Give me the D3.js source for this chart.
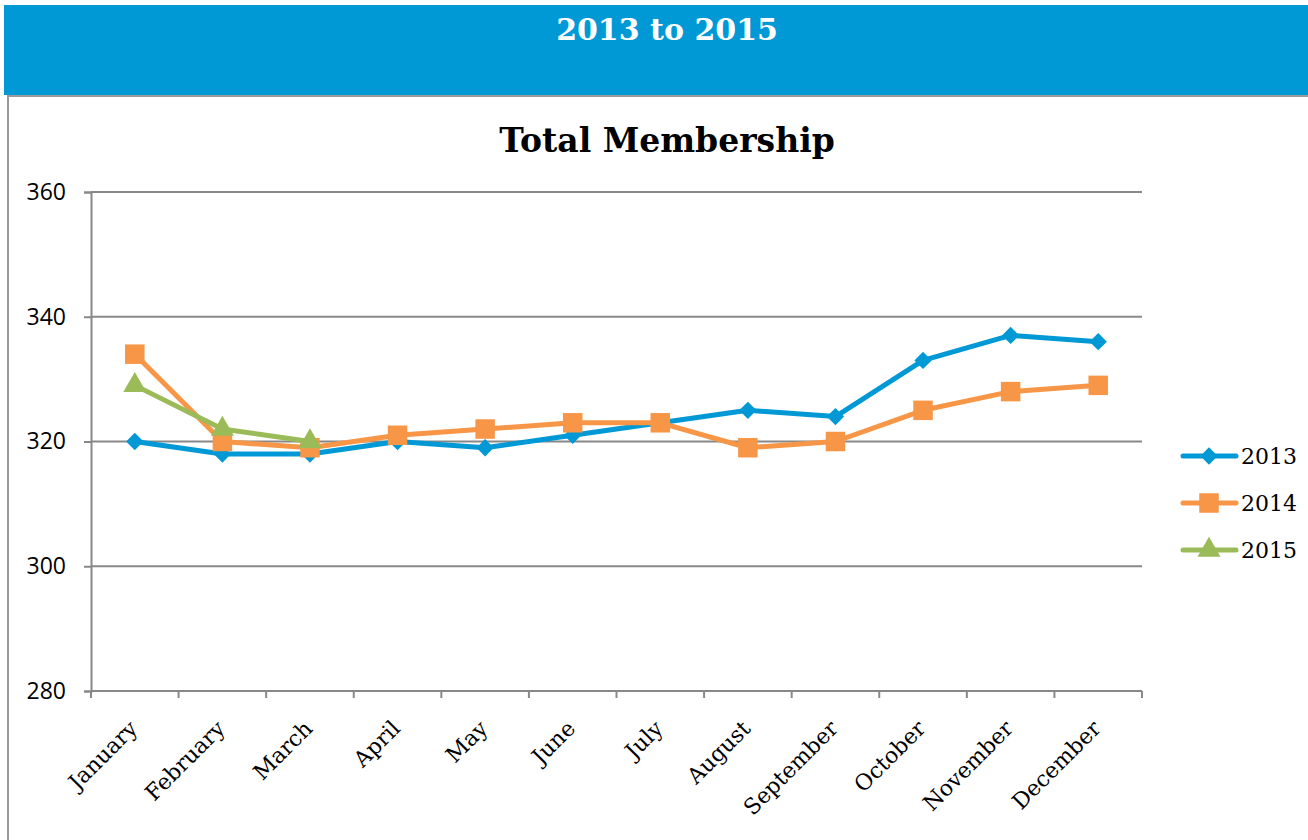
<!DOCTYPE html>
<html>
<head>
<meta charset="utf-8">
<script src="https://cdn.jsdelivr.net/npm/d3@7/dist/d3.min.js"></script>
<style>
    body { margin: 0; background: #fff; }
    svg { display: block; }
</style>
</head>
<body>
<div id="chart"></div>
<script>
"use strict";

const months = ["January", "February", "March", "April", "May", "June", "July",
    "August", "September", "October", "November", "December"];
const years = ["2013", "2014", "2015"];
const values2013 = [320, 318, 318, 320, 319, 321, 323, 325, 324, 333, 337, 336];
const values2014 = [334, 320, 319, 321, 322, 323, 323, 319, 320, 325, 328, 329];
const values2015 = [329, 322, 320];
const yTicks = [280, 300, 320, 340, 360];

const BLUE = "#0099D6";
const ORANGE = "#F79646";
const GREEN = "#9BBB59";
const SERIF = "'DejaVu Serif', serif";
const SANS = "'Open Sans', sans-serif";

function buildChart() {
    const width = 1308, height = 840;
    const svg = d3.select("#chart").append("svg")
        .attr("width", width).attr("height", height);

    // header band
    svg.append("rect").attr("x", 4).attr("y", 5).attr("width", width - 4).attr("height", 90)
        .attr("fill", "#0099D6");
    svg.append("text").attr("x", 667).attr("y", 40)
        .attr("text-anchor", "middle")
        .style("font-family", SERIF).style("font-weight", "bold").style("font-size", "30px")
        .attr("fill", "#fff")
        .text("2013 to 2015");

    // frame of the chart box
    svg.append("path").attr("d", "M8,840 V96 H1308")
        .attr("fill", "none").attr("stroke", "#999").attr("stroke-width", 2);

    svg.append("text").attr("x", 667).attr("y", 152)
        .attr("text-anchor", "middle")
        .style("font-family", SERIF).style("font-weight", "bold").style("font-size", "33px")
        .attr("fill", "#000")
        .text("Total Membership");

    const left = 91, right = 1142, top = 192, bottom = 691;
    const x = d3.scaleBand().domain(months).range([left, right]);
    const y = d3.scaleLinear().domain([280, 360]).range([bottom, top]);

    // grid lines
    svg.append("g").selectAll("line")
        .data(yTicks.slice(1))
        .enter()
        .append("line")
        .attr("x1", left).attr("x2", right)
        .attr("y1", function (d) { return y(d); })
        .attr("y2", function (d) { return y(d); })
        .attr("stroke", "#888").attr("stroke-width", 2);

    // y axis
    const yAxis = svg.append("g").attr("transform", "translate(" + left + ",0)")
        .call(d3.axisLeft(y).tickValues(yTicks).tickSize(7).tickPadding(18));
    yAxis.select(".domain").attr("stroke", "#888").attr("stroke-width", 2);
    yAxis.selectAll(".tick line").attr("stroke", "#888").attr("stroke-width", 2);
    yAxis.selectAll(".tick text")
        .style("font-family", SANS).style("font-size", "23px").attr("fill", "#000");

    // x axis, ticks sit on band edges
    const xAxis = svg.append("g").attr("transform", "translate(0," + bottom + ")");
    xAxis.append("line").attr("x1", left).attr("x2", right)
        .attr("stroke", "#888").attr("stroke-width", 2);
    const edges = months.map(function (m) { return x(m); }).concat([right]);
    xAxis.selectAll(".edge").data(edges).enter().append("line")
        .attr("x1", function (d) { return d; }).attr("x2", function (d) { return d; })
        .attr("y1", 0).attr("y2", 7)
        .attr("stroke", "#888").attr("stroke-width", 2);
    xAxis.selectAll(".lbl").data(months).enter().append("text")
        .attr("transform", function (d) {
            return "translate(" + (x(d) + x.bandwidth() / 2 - 7) + ",28) rotate(-45)";
        })
        .attr("text-anchor", "end")
        .attr("dy", "0.7em")
        .style("font-family", SERIF).style("font-size", "22px").attr("fill", "#000")
        .text(function (d) { return d; });

    const series = [
        {name: years[0], values: values2013, color: BLUE, symbol: d3.symbolSquare, size: 150, rot: 45},
        {name: years[1], values: values2014, color: ORANGE, symbol: d3.symbolSquare, size: 380, rot: 0},
        {name: years[2], values: values2015, color: GREEN, symbol: d3.symbolTriangle, size: 230, rot: 0}
    ];

    const line = d3.line()
        .x(function (d, i) { return x(months[i]) + x.bandwidth() / 2; })
        .y(function (d) { return y(d); });

    series.forEach(function (s) {
        const g = svg.append("g");
        g.append("path").datum(s.values)
            .attr("d", line)
            .attr("fill", "none").attr("stroke", s.color).attr("stroke-width", 5)
            .attr("stroke-linejoin", "round");
        g.selectAll(".pt").data(s.values).enter().append("path")
            .attr("transform", function (d, i) {
                return "translate(" + (x(months[i]) + x.bandwidth() / 2) + "," + y(d) + ") rotate(" + s.rot + ")";
            })
            .attr("d", d3.symbol().type(s.symbol).size(s.size))
            .attr("fill", s.color);
    });

    // legend
    const legend = svg.append("g");
    series.forEach(function (s, i) {
        const ly = 456 + i * 47;
        legend.append("line").attr("x1", 1183).attr("x2", 1236)
            .attr("y1", ly).attr("y2", ly)
            .attr("stroke", s.color).attr("stroke-width", 5).attr("stroke-linecap", "round");
        legend.append("path")
            .attr("transform", "translate(1209," + ly + ") rotate(" + s.rot + ")")
            .attr("d", d3.symbol().type(s.symbol).size(s.size))
            .attr("fill", s.color);
        legend.append("text").attr("x", 1241).attr("y", ly).attr("dy", "0.36em")
            .style("font-family", SERIF).style("font-size", "22px").attr("fill", "#000")
            .text(s.name);
    });
}

buildChart();
</script>
</body>
</html>
